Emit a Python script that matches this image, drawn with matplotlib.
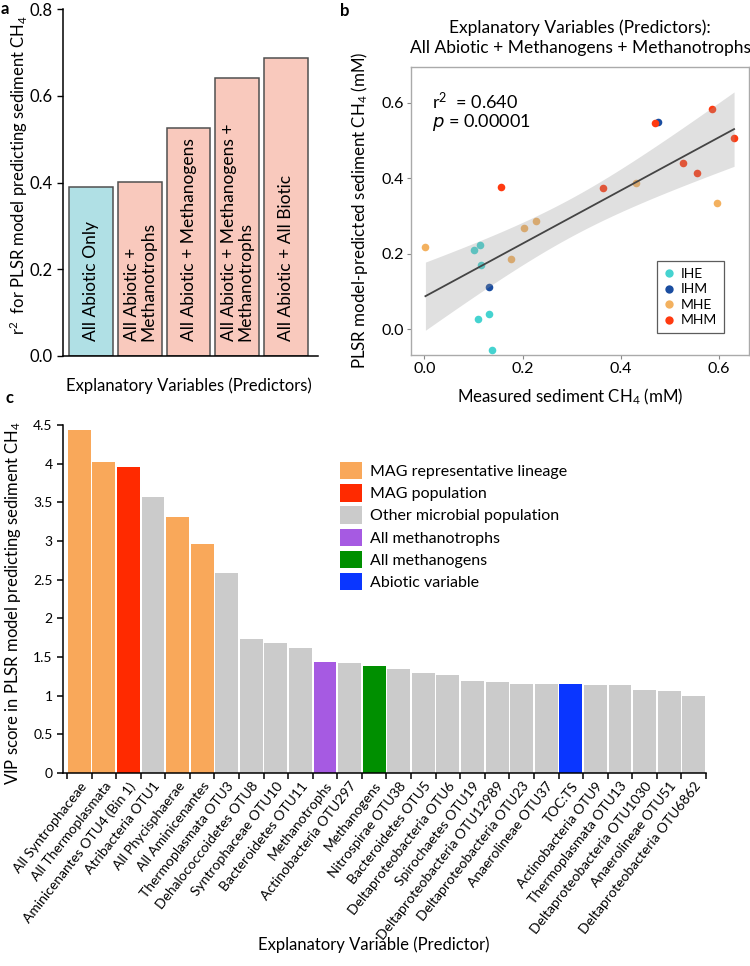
import numpy as np
import matplotlib
matplotlib.use("Agg")
import matplotlib.pyplot as plt
from matplotlib.patches import Patch
from matplotlib.lines import Line2D

plt.rcParams['font.family'] = ['Lato', 'DejaVu Sans']
plt.rcParams['mathtext.default'] = 'regular'

# panel a
a_labels = ['All Abiotic Only', 'All Abiotic +\nMethanotrophs', 'All Abiotic + Methanogens',
            'All Abiotic + Methanogens +\nMethanotrophs', 'All Abiotic + All Biotic']
a_r2 = [0.389, 0.401, 0.526, 0.640, 0.688]
a_group = ['abiotic', 'mixed', 'mixed', 'mixed', 'mixed']

# panel b
ihe_x = [0.102, 0.114, 0.115, 0.110, 0.132, 0.138]
ihe_y = [0.210, 0.223, 0.170, 0.028, 0.041, -0.055]
ihm_x = [0.132, 0.476]
ihm_y = [0.113, 0.548]
mhe_x = [0.002, 0.177, 0.202, 0.227, 0.431, 0.596]
mhe_y = [0.219, 0.187, 0.269, 0.286, 0.387, 0.333]
mhm_x = [0.155, 0.363, 0.470, 0.527, 0.555, 0.585, 0.631]
mhm_y = [0.376, 0.374, 0.545, 0.441, 0.413, 0.583, 0.507]
b_groups = ['IHE', 'IHM', 'MHE', 'MHM']

# panel c
c_labels = ['All Syntrophaceae', 'All Thermoplasmata', 'Aminicenantes OTU4 (Bin 1)', 'Atribacteria OTU1',
            'All Phycisphaerae', 'All Aminicenantes', 'Thermoplasmata OTU3', 'Dehalococcoidetes OTU8',
            'Syntrophaceae OTU10', 'Bacteroidetes OTU11', 'Methanotrophs', 'Actinobacteria OTU297',
            'Methanogens', 'Nitrospirae OTU38', 'Bacteroidetes OTU5', 'Deltaproteobacteria OTU6',
            'Spirochaetes OTU19', 'Deltaproteobacteria OTU12989', 'Deltaproteobacteria OTU23',
            'Anaerolineae OTU37', 'TOC:TS', 'Actinobacteria OTU9', 'Thermoplasmata OTU13',
            'Deltaproteobacteria OTU1030', 'Anaerolineae OTU51', 'Deltaproteobacteria OTU6862']
c_vip = [4.44, 4.017, 3.953, 3.573, 3.315, 2.957, 2.586, 1.733, 1.677, 1.616, 1.435, 1.422,
         1.388, 1.345, 1.289, 1.267, 1.190, 1.172, 1.155, 1.151, 1.151, 1.134, 1.134, 1.073,
         1.056, 0.996]
c_cat = ['lineage', 'lineage', 'magpop', 'other', 'lineage', 'lineage', 'other', 'other',
         'other', 'other', 'mtroph', 'other', 'mgen', 'other', 'other', 'other', 'other',
         'other', 'other', 'other', 'abiotic', 'other', 'other', 'other', 'other', 'other']
c_cat_names = {'lineage': 'MAG representative lineage', 'magpop': 'MAG population',
               'other': 'Other microbial population', 'mtroph': 'All methanotrophs',
               'mgen': 'All methanogens', 'abiotic': 'Abiotic variable'}

# colours
a_colors = {'abiotic': '#b0e0e5', 'mixed': '#f9c9bd'}
b_colors = {'IHE': '#45d3d0', 'IHM': '#1a4da0', 'MHE': '#f3b15f', 'MHM': '#ff3a10'}
c_colors = {'lineage': '#f9a85a', 'magpop': '#ff2a00', 'other': '#cbcbcb',
            'mtroph': '#a65ae2', 'mgen': '#008f00', 'abiotic': '#0a36ff'}

W, H = 750, 966
fig = plt.figure(figsize=(W / 100, H / 100), dpi=100)

def box(l, t, r, b):
    return [l / W, 1 - b / H, (r - l) / W, (b - t) / H]

def ftext(x, y, s, **kw):
    fig.text(x / W, 1 - y / H, s, ha='center', va='center', **kw)

# ---- a
ax = fig.add_axes(box(63, 9, 318, 356))
xa = np.arange(len(a_r2))
ax.bar(xa, a_r2, width=0.9, color=[a_colors[g] for g in a_group], edgecolor='#505050', linewidth=1.1)
for i, lab in enumerate(a_labels):
    ax.text(xa[i], 0.035, lab, rotation=90, ha='center', va='bottom', multialignment='left',
            fontsize=12.5, linespacing=1.0)
ax.set_xlim(-0.58, 4.66)
ax.set_ylim(0, 0.8)
ax.set_yticks([0, 0.2, 0.4, 0.6, 0.8])
ax.set_yticklabels(['0.0', '0.2', '0.4', '0.6', '0.8'])
ax.set_xticks([])
ax.tick_params(axis='y', labelsize=12, length=4, width=1)
for s in ['top', 'right']:
    ax.spines[s].set_visible(False)
ax.spines['left'].set_linewidth(1.1)
ax.spines['bottom'].set_linewidth(1.1)
ftext(189, 386, 'Explanatory Variables (Predictors)', fontsize=12)
ftext(19, 175, 'r$^2$  for PLSR model predicting sediment CH$_4$', fontsize=12, rotation=90)
fig.text(0.5 / W, 1 - 9 / H, 'a', fontsize=12, fontweight='bold', va='center')

# ---- b
bx = fig.add_axes(box(410.7, 66.7, 749.3, 355))
xs = {'IHE': ihe_x, 'IHM': ihm_x, 'MHE': mhe_x, 'MHM': mhm_x}
ys = {'IHE': ihe_y, 'IHM': ihm_y, 'MHE': mhe_y, 'MHM': mhm_y}
for g in b_groups:
    bx.scatter(xs[g], ys[g], s=30, color=b_colors[g], linewidths=0, zorder=2)
allx = np.array(ihe_x + ihm_x + mhe_x + mhm_x)
ally = np.array(ihe_y + ihm_y + mhe_y + mhm_y)
slope, icpt = np.polyfit(allx, ally, 1)
xx = np.linspace(allx.min(), allx.max(), 100)
yy = slope * xx + icpt
n = len(allx)
resid = ally - (slope * allx + icpt)
s_err = np.sqrt(np.sum(resid ** 2) / (n - 2))
se = s_err * np.sqrt(1 / n + (xx - allx.mean()) ** 2 / np.sum((allx - allx.mean()) ** 2))
t = 2.093
bx.fill_between(xx, yy - t * se, yy + t * se, color='#999999', alpha=0.3, linewidth=0, zorder=3)
bx.plot(xx, yy, color='#444444', linewidth=1.3, zorder=4)
bx.set_xlim(-0.028, 0.662)
bx.set_ylim(-0.068, 0.695)
bx.set_xticks([0, 0.2, 0.4, 0.6])
bx.set_xticklabels(['0.0', '0.2', '0.4', '0.6'])
bx.set_yticks([0, 0.2, 0.4, 0.6])
bx.set_yticklabels(['0.0', '0.2', '0.4', '0.6'])
bx.tick_params(labelsize=11.5, length=3, width=0.8, color='#888888', pad=2)
for s in bx.spines.values():
    s.set_color('#aaaaaa')
    s.set_linewidth(1.0)
bx.text(0.064, 0.88, 'r$^2$  = 0.640', transform=bx.transAxes, fontsize=13, va='center')
bx.text(0.064, 0.805, '$\\it{p}$ = 0.00001', transform=bx.transAxes, fontsize=13, va='center')
handles = [Line2D([], [], marker='o', linestyle='', markersize=6, markerfacecolor=b_colors[g],
                  markeredgewidth=0, label=g) for g in b_groups]
leg = bx.legend(handles=handles, loc='upper left', bbox_to_anchor=(0.727, 0.326), borderaxespad=0,
                fontsize=10, frameon=True, fancybox=False, handlelength=0.8, handletextpad=0.4,
                labelspacing=0.25, borderpad=0.5)
leg.get_frame().set_edgecolor('#333333')
leg.get_frame().set_linewidth(0.9)
ftext(580, 38, 'Explanatory Variables (Predictors):\nAll Abiotic + Methanogens + Methanotrophs',
      fontsize=12.5, linespacing=1.3)
ftext(570, 397, 'Measured sediment CH$_4$ (mM)', fontsize=12.2)
ftext(360, 210, 'PLSR model-predicted sediment CH$_4$ (mM)', fontsize=12.2, rotation=90)
fig.text(340 / W, 1 - 11 / H, 'b', fontsize=12, fontweight='bold', va='center')

# ---- c
cx = fig.add_axes(box(63, 425, 706, 773))
xc = np.arange(len(c_vip))
cx.bar(xc, c_vip, width=0.93, color=[c_colors[c] for c in c_cat], linewidth=0)
cx.set_xlim(-0.66, 25.5)
cx.set_ylim(0, 4.5)
yt = np.arange(0, 4.51, 0.5)
cx.set_yticks(yt)
cx.set_yticklabels(['%g' % v for v in yt])
cx.set_xticks(xc)
cx.set_xticklabels(c_labels, rotation=52, ha='right', rotation_mode='anchor', fontsize=10)
cx.set_xticks(np.arange(-0.5, len(c_vip), 1), minor=True)
cx.tick_params(axis='x', which='major', length=0, pad=5)
cx.tick_params(axis='x', which='minor', length=4, width=1.1)
cx.tick_params(axis='y', labelsize=10, length=4, width=1.1)
for s in ['top', 'right']:
    cx.spines[s].set_visible(False)
cx.spines['left'].set_linewidth(1.1)
cx.spines['bottom'].set_linewidth(1.1)
order = ['lineage', 'magpop', 'other', 'mtroph', 'mgen', 'abiotic']
patches = [Patch(facecolor=c_colors[k], edgecolor='none', label=c_cat_names[k]) for k in order]
fig.legend(handles=patches, loc='upper left', bbox_to_anchor=(340 / W, 1 - 462 / H), frameon=False,
           fontsize=11.5, handlelength=1.35, handleheight=1.3, handletextpad=0.5,
           labelspacing=0.3, borderpad=0, borderaxespad=0)
ftext(374, 945, 'Explanatory Variable (Predictor)', fontsize=12)
ftext(13, 603, 'VIP score in PLSR model predicting sediment CH$_4$', fontsize=12, rotation=90)
fig.text(6 / W, 1 - 398 / H, 'c', fontsize=12, fontweight='bold', va='center')

fig.savefig('out.png', dpi=100)
